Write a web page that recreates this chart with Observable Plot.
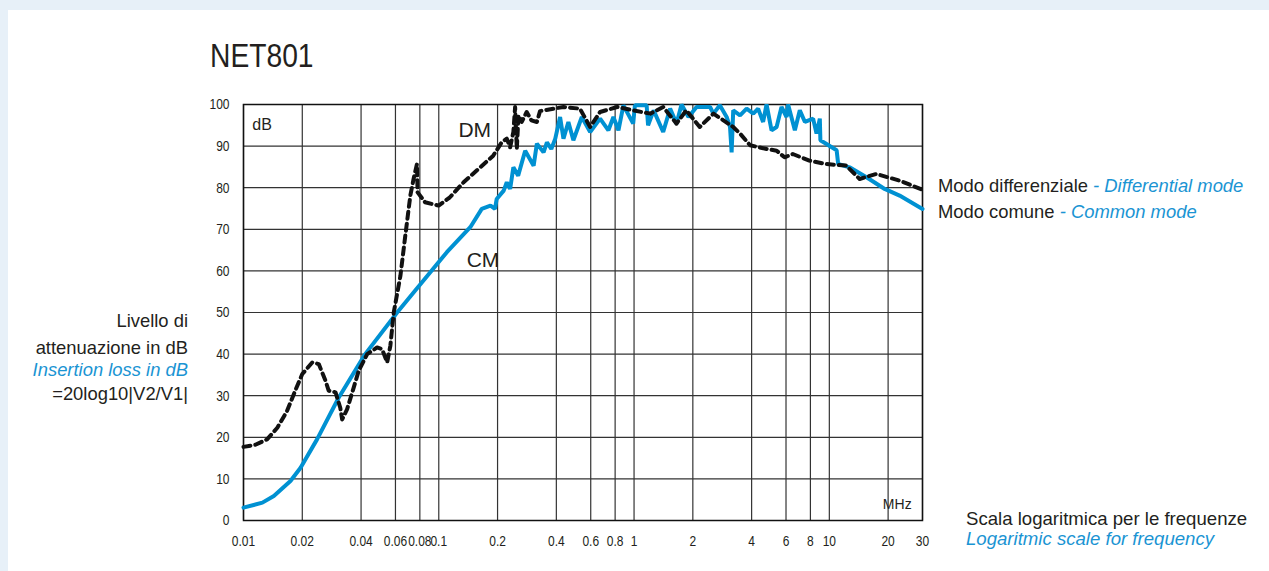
<!DOCTYPE html>
<html>
<head>
<meta charset="utf-8">
<script src="https://cdn.jsdelivr.net/npm/d3@7"></script>
<script src="https://cdn.jsdelivr.net/npm/@observablehq/plot@0.6"></script>
<style>
  html, body { margin: 0; padding: 0; background: #e7f0f8; }
  #wrap { position: relative; width: 1269px; height: 571px; background: #e7f0f8; overflow: hidden; }
  #panel { position: absolute; left: 8px; top: 10px; right: 0; bottom: 0; background: #ffffff; }
  #chart { position: absolute; left: 0; top: 0; }
  .t { position: absolute; white-space: nowrap; line-height: 1; font-family: "Liberation Sans", Arial, sans-serif; font-size: 18.4px; color: #231f20; }
  .b { color: #1a94d3; font-style: italic; }
  .r { text-align: right; }
</style>
</head>
<body>
<div id="wrap">
  <div id="panel"></div>
  <div id="chart"></div>
  <div class="t" style="left:210px; top:38px; font-size:34px; transform: scaleX(0.83); transform-origin: 0 0;">NET801</div>
  <div class="t" style="left:938px; top:177px;">Modo differenziale <span class="b">- Differential mode</span></div>
  <div class="t" style="left:938px; top:203px;">Modo comune <span class="b">- Common mode</span></div>
  <div class="t r" style="right:1081px; top:312px;">Livello di</div>
  <div class="t r" style="right:1081px; top:339px;">attenuazione in dB</div>
  <div class="t r b" style="right:1081px; top:361px;">Insertion loss in dB</div>
  <div class="t r" style="right:1081px; top:385px;">=20log10|V2/V1|</div>
  <div class="t" style="left:966px; top:510px; font-size:18.6px;">Scala logaritmica per le frequenze</div>
  <div class="t b" style="left:966px; top:530px; font-size:18.6px;">Logaritmic scale for frequency</div>
</div>
<script>
// Frequency ticks (MHz) and level ticks (dB)
const xTicks = [0.01, 0.02, 0.04, 0.06, 0.08, 0.1, 0.2, 0.4, 0.6, 0.8, 1, 2, 4, 6, 8, 10, 20, 30];
const yTicks = [0, 10, 20, 30, 40, 50, 60, 70, 80, 90, 100];

// Common mode (CM) – solid blue
const cmFreq = [0.01, 0.0125, 0.0143, 0.0174, 0.0196, 0.0238, 0.0307, 0.042, 0.0612, 0.0743, 0.110, 0.145,
  0.166, 0.184, 0.194, 0.198, 0.215, 0.223, 0.232, 0.241, 0.255, 0.277, 0.306, 0.318, 0.344, 0.358, 0.377, 0.395,
  0.418, 0.435, 0.461, 0.489, 0.540, 0.596, 0.670, 0.739, 0.784, 0.832, 0.882, 0.99, 1.01, 1.16, 1.18, 1.26,
  1.41, 1.53, 1.65, 1.75, 1.90, 2.09, 2.45, 2.55, 2.75, 2.98, 3.10, 3.16, 3.22, 3.49, 3.77, 4.08, 4.32, 4.58,
  4.77, 5.06, 5.37, 5.69, 6.04, 6.15, 6.66, 7.06, 7.50, 8.26, 8.60, 8.94, 9.0, 10.9, 11.1, 12.7, 15.5, 19.2, 22.9, 30];
const cmLevel = [3.1, 4.3, 5.9, 9.5, 12.7, 19.5, 29.5, 40, 50, 54.8, 64.5, 70.5,
  74.9, 75.7, 74.9, 77.3, 79.3, 81.3, 79.7, 84.9, 82.9, 88.9, 85.3, 90.6, 88.5, 90.9, 89.3, 91.8,
  97, 91.8, 95.8, 91.4, 97, 93.4, 96.6, 93.8, 97, 93.8, 99.8, 95.4, 99.8, 99.8, 95.0, 98.6,
  93.4, 99.0, 95.4, 100, 97, 99.4, 99.4, 97.8, 99.8, 97, 94.6, 88.5, 98.6, 97.4, 99, 97.8, 99, 95.8,
  100, 93.8, 94.6, 99.4, 97, 100, 93.8, 98.6, 95.8, 96.6, 93, 96.6, 91.4, 89, 85.7, 84.9, 82.5, 79.7, 78.1, 74.9];

// Differential mode (DM) – dashed black
const dmFreq = [0.01, 0.0115, 0.0132, 0.0149, 0.0167, 0.0184, 0.0200, 0.0225, 0.0243, 0.0263, 0.0273, 0.0296,
  0.0313, 0.0320, 0.0339, 0.0367, 0.0389, 0.0430, 0.0483, 0.0512, 0.0544, 0.0565, 0.0588, 0.0636, 0.0674, 0.0715,
  0.0743, 0.0773, 0.0779, 0.0851, 0.0998, 0.114, 0.134, 0.163, 0.190, 0.210, 0.223, 0.232, 0.241, 0.246, 0.251,
  0.256, 0.266, 0.282, 0.298, 0.318, 0.330, 0.386, 0.435, 0.528, 0.596, 0.670, 0.82, 0.99, 1.21, 1.41, 1.65,
  1.85, 2.17, 2.55, 3.22, 3.49, 3.93, 4.77, 5.37, 5.9, 6.5, 7.9, 9.6, 12.2, 14.3, 17.4, 22.9, 30];
const dmLevel = [17.7, 18.2, 19.5, 22.3, 26.3, 31.2, 35.2, 38.0, 37.6, 33.6, 31.2, 30.8,
  27.1, 24.3, 26.7, 32.0, 36.0, 40.0, 41.6, 41.2, 38.0, 42.0, 50.0, 58.8, 68.5, 78.1,
  82.1, 85.7, 78.9, 76.5, 75.7, 77.7, 81.3, 84.9, 87.7, 90.9, 91.8, 89.7, 93.4, 99.4, 89.3,
  97.4, 95.8, 98.2, 96.2, 95.8, 98.4, 99.0, 99.4, 99.0, 94.6, 98.2, 99.4, 98.6, 97.8, 99.4, 95.4,
  98.6, 94.6, 97.8, 94.6, 93, 90.2, 89.3, 88.9, 87.3, 88.1, 86.5, 85.7, 85.3, 82.1, 83.3, 81.7, 79.5];

// In-plot annotations (data coordinates)
const noteText = ["DM", "CM", "dB", "MHz"];
const noteFreq = [0.126, 0.139, 0.0111, 18.8];
const noteLevel = [93.8, 62.5, 95, 3.95];
const noteSize = [21, 21, 16, 14];

const cm = cmFreq.map((f, i) => ({f, v: cmLevel[i]}));
const dm = dmFreq.map((f, i) => ({f, v: dmLevel[i]}));
const notes = noteText.map((t, i) => ({t, f: noteFreq[i], v: noteLevel[i], s: noteSize[i]}));

const font = "'Liberation Sans', Arial, sans-serif";

const chart = Plot.plot({
  width: 1269,
  height: 571,
  marginLeft: 243,
  marginRight: 347,
  marginTop: 104,
  marginBottom: 51,
  x: {type: "log", domain: [0.01, 30], axis: null},
  y: {domain: [0, 100], axis: null},
  style: {background: "transparent", fontFamily: font, fontSize: "14px", color: "#231f20", overflow: "visible"},
  marks: [
    Plot.gridX(xTicks, {stroke: "#333", strokeOpacity: 1, strokeWidth: 1.2}),
    Plot.gridY(yTicks, {stroke: "#333", strokeOpacity: 1, strokeWidth: 1.2}),
    Plot.frame({stroke: "#111", strokeWidth: 1.5}),
    Plot.text(xTicks, {x: d => d, frameAnchor: "bottom", dy: 21, lineAnchor: "middle",
      text: d => String(d), fontSize: 15, fill: "#231f20"}),
    Plot.text(yTicks, {y: d => d, frameAnchor: "left", dx: -14, textAnchor: "end", lineAnchor: "middle",
      text: d => String(d), fontSize: 15, fill: "#231f20"}),
    Plot.line(cm, {x: "f", y: "v", stroke: "#0091d2", strokeWidth: 4, strokeLinejoin: "miter"}),
    Plot.line(dm, {x: "f", y: "v", stroke: "#111", strokeWidth: 4, strokeDasharray: "7,5"}),
    Plot.text(notes, {x: "f", y: "v", text: "t", fontSize: d => d.s, textAnchor: "start", fill: "#231f20",
      lineAnchor: "middle"})
  ]
});

// Condense the tick labels horizontally (the original uses a narrow typeface):
// the first two text groups are the x and y tick labels.
const textGroups = Array.from(chart.querySelectorAll("g")).filter(g => g.querySelector(":scope > text"));
textGroups.slice(0, 2).forEach(g => {
  g.querySelectorAll(":scope > text").forEach(el => {
    const t = el.getAttribute("transform");
    if (t) el.setAttribute("transform", `${t} scale(0.8,1)`);
  });
});

document.getElementById("chart").appendChild(chart);
</script>
</body>
</html>
